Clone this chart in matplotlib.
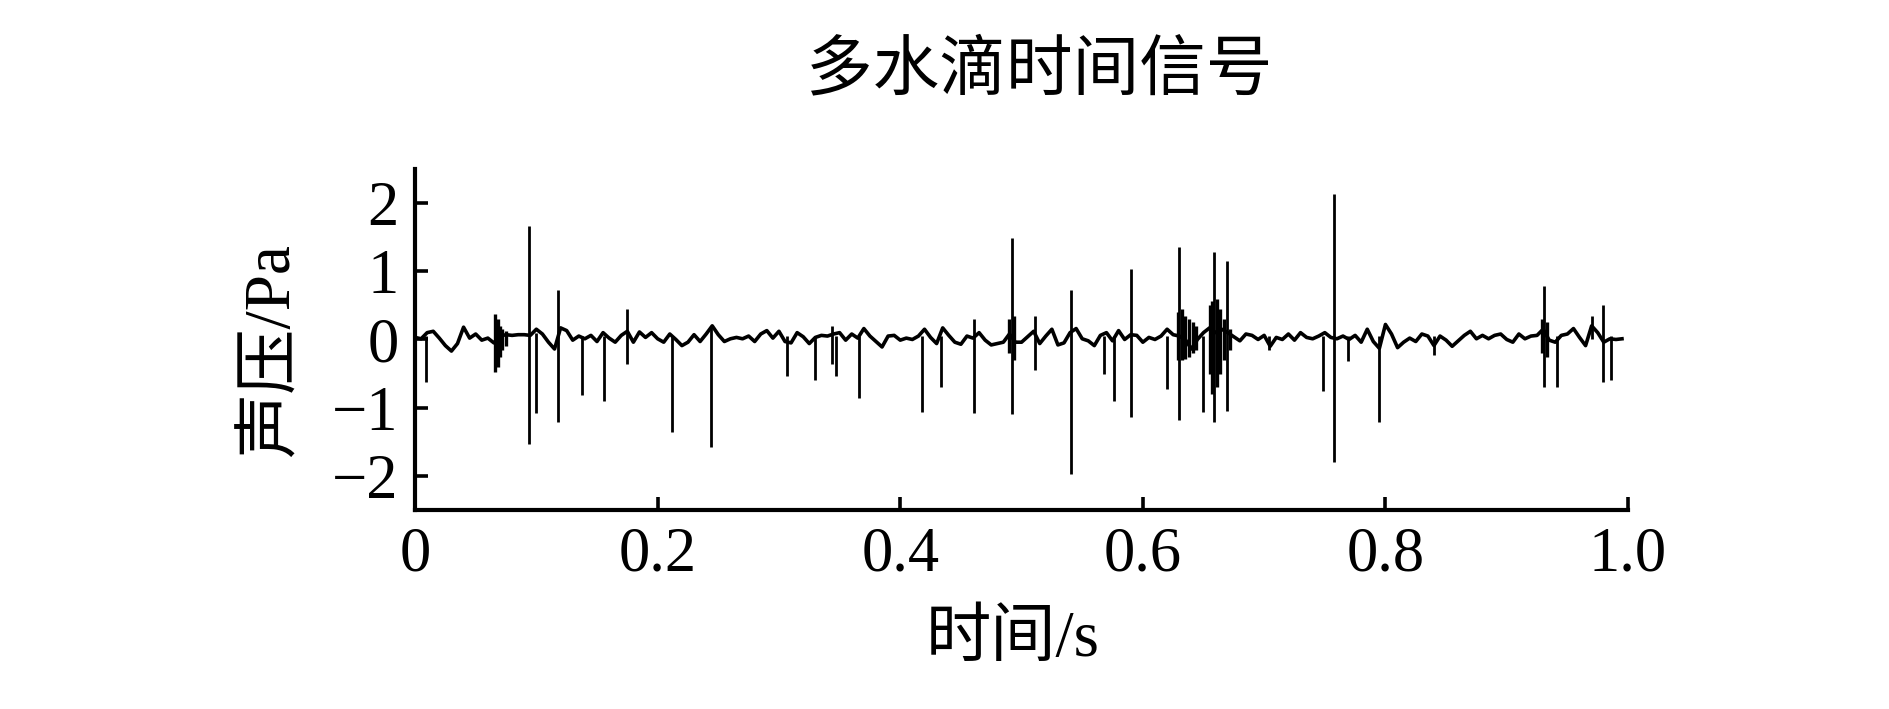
import matplotlib
matplotlib.use("Agg")
import matplotlib.pyplot as plt
import numpy as np

plt.rcParams['font.family'] = ['Liberation Serif', 'Noto Sans CJK SC']
plt.rcParams['axes.unicode_minus'] = True

# slow background wiggle, read every 5 ms from the picture
dt = 0.005
baseline = [
    0.03, 0.01, 0.10, 0.12, 0.02, -0.09, -0.17, -0.06, 0.18, 0.02,
    0.08, -0.01, 0.02, -0.05, 0.05, 0.07, 0.06, 0.07, 0.07, 0.06,
    0.15, 0.08, -0.04, -0.14, 0.17, 0.13, -0.01, 0.05, 0.01, 0.06,
    -0.03, 0.10, 0.02, -0.04, 0.06, 0.12, -0.04, 0.11, 0.03, 0.10,
    0.01, -0.04, 0.08, 0.00, -0.09, -0.04, 0.07, -0.03, 0.08, 0.20,
    0.07, -0.03, 0.01, 0.03, 0.01, 0.05, -0.03, 0.08, 0.13, 0.02,
    0.12, -0.03, -0.05, 0.10, 0.04, -0.06, 0.03, 0.06, 0.05, 0.08,
    0.10, -0.01, 0.08, 0.02, 0.16, 0.05, -0.03, -0.11, 0.05, 0.06,
    -0.01, 0.02, 0.00, 0.05, 0.15, 0.03, -0.06, 0.17, 0.06, -0.04,
    -0.07, 0.05, 0.02, 0.10, -0.01, -0.08, -0.06, -0.04, 0.08, -0.04,
    -0.04, 0.04, 0.12, -0.06, 0.05, 0.15, -0.08, -0.05, 0.10, 0.16,
    0.01, -0.02, -0.09, 0.06, 0.10, -0.02, 0.13, 0.00, 0.07, 0.06,
    -0.04, 0.03, 0.00, 0.05, 0.15, 0.07, 0.05, 0.00, -0.14, 0.00,
    0.10, 0.17, 0.10, 0.15, 0.10, 0.04, -0.02, 0.08, 0.06, 0.00,
    0.06, -0.10, 0.03, 0.00, 0.08, -0.01, 0.10, 0.03, 0.01, 0.05,
    0.10, 0.03, 0.01, 0.05, 0.00, 0.06, -0.04, 0.15, -0.03, -0.13,
    0.22, 0.08, -0.12, -0.04, 0.02, -0.03, 0.08, 0.05, -0.09, 0.05,
    -0.01, -0.10, -0.02, 0.06, 0.12, 0.01, 0.06, 0.01, 0.06, 0.08,
    0.00, -0.04, 0.08, 0.01, 0.05, 0.06, 0.15, -0.01, -0.04, 0.06,
    0.08, 0.16, 0.03, -0.09, 0.20, 0.10, -0.04, 0.01, 0.00, 0.01,
]

# single drop impulses: time, lowest and highest pressure
drop_t = [0.009, 0.094, 0.0997, 0.118, 0.1376, 0.156, 0.1746, 0.212, 0.244,
          0.307, 0.3296, 0.344, 0.347, 0.3657, 0.4176, 0.434, 0.461, 0.4918,
          0.511, 0.541, 0.5676, 0.576, 0.59, 0.62, 0.630, 0.65, 0.659,
          0.6697, 0.704, 0.7488, 0.758, 0.769, 0.795, 0.840, 0.931, 0.9415,
          0.970, 0.979, 0.986]
drop_lo = [-0.63, -1.53, -1.08, -1.21, -0.82, -0.90, -0.36, -1.36, -1.58,
           -0.54, -0.60, -0.36, -0.54, -0.86, -1.07, -0.69, -1.08, -1.10,
           -0.45, -1.97, -0.51, -0.90, -1.14, -0.73, -1.18, -1.07, -1.21,
           -1.05, -0.16, -0.76, -1.80, -0.31, -1.21, -0.23, -0.70, -0.70,
           0.00, -0.63, -0.60]
drop_hi = [0.05, 1.66, 0.10, 0.73, 0.05, 0.05, 0.45, 0.05, 0.20,
           0.05, 0.05, 0.20, 0.05, 0.05, 0.05, 0.05, 0.30, 1.49,
           0.35, 0.72, 0.05, 0.05, 1.04, 0.05, 1.36, 0.05, 1.28,
           1.15, 0.05, 0.05, 2.14, 0.05, 0.05, 0.05, 0.79, 0.05,
           0.34, 0.50, 0.05]

# ringing after the drops (dense oscillation envelopes)
ring_t = [0.066, 0.068, 0.070, 0.072, 0.075, 0.490, 0.494, 0.629, 0.632,
          0.635, 0.638, 0.641, 0.644, 0.655, 0.657, 0.661, 0.664, 0.667,
          0.672, 0.929, 0.933]
ring_lo = [-0.48, -0.40, -0.25, -0.15, -0.10, -0.20, -0.30, -0.30, -0.30,
           -0.28, -0.25, -0.20, -0.15, -0.50, -0.80, -0.70, -0.50, -0.30,
           -0.15, -0.20, -0.25]
ring_hi = [0.37, 0.30, 0.20, 0.15, 0.12, 0.30, 0.35, 0.40, 0.45,
           0.35, 0.30, 0.25, 0.20, 0.50, 0.57, 0.60, 0.45, 0.30,
           0.15, 0.30, 0.25]

t = np.arange(len(baseline)) * dt

fig = plt.figure(figsize=(18.9, 7.09), dpi=100)
ax = fig.add_axes([0.2196, 0.2807, 0.6418, 0.481])

ax.plot(t, baseline, color='black', lw=2.6)
ax.vlines(drop_t, drop_lo, drop_hi, color='black', lw=2.0)
ax.vlines(ring_t, ring_lo, ring_hi, color='black', lw=2.4)

ax.set_xlim(0, 1.0)
ax.set_ylim(-2.5, 2.5)
ax.set_xticks([0, 0.2, 0.4, 0.6, 0.8, 1.0])
ax.set_xticklabels(['0', '0.2', '0.4', '0.6', '0.8', '1.0'])
ax.set_yticks([-2, -1, 0, 1, 2])
ax.spines['top'].set_visible(False)
ax.spines['right'].set_visible(False)
for s in ('left', 'bottom'):
    ax.spines[s].set_linewidth(3)
ax.tick_params(direction='in', length=9.5, width=2.6, labelsize=45, pad=12)

fig.text(0.550, 0.898, '多水滴时间信号', fontsize=48, ha='center', va='center')
fig.text(0.536, 0.097, '时间/s', fontsize=47, ha='center', va='center')
fig.text(0.144, 0.506, '声压/Pa', fontsize=47, ha='center', va='center',
         rotation=90)

fig.savefig('out.png', dpi=100)
